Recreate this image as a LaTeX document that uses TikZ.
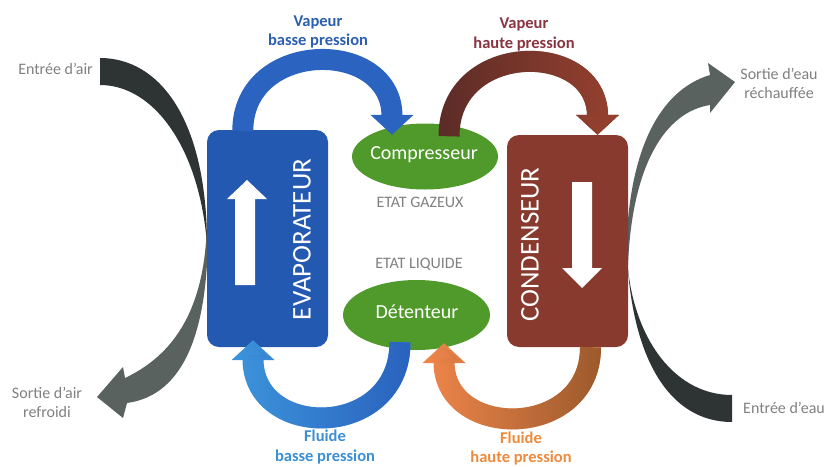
\documentclass[tikz,border=0pt]{standalone}
\usepackage{fontspec}
\setmainfont{Carlito}
\usepackage{tikz}
\usetikzlibrary{arrows.meta, shapes.geometric, fadings}
\usepackage{xcolor}
\definecolor{evapblue}{HTML}{2459B2}
\definecolor{condbrown}{HTML}{873A2D}
\definecolor{valvegreen}{HTML}{509A2C}
\definecolor{vapblue}{HTML}{2A64C0}
\definecolor{fluidlight}{HTML}{3C92DA}
\definecolor{fluiddark}{HTML}{2A62BE}
\definecolor{vapdark}{HTML}{5C2C27}
\definecolor{vaphigh}{HTML}{94402F}
\definecolor{fluidorange}{HTML}{EC844A}
\definecolor{fluidbrown}{HTML}{9C5A2C}
\definecolor{swdark}{HTML}{2E3434}
\definecolor{swgray}{HTML}{59625F}
\definecolor{txtgray}{HTML}{808080}
\definecolor{lblblue}{HTML}{2D5FB0}
\definecolor{lblmaroon}{HTML}{8A3440}
\definecolor{lblsky}{HTML}{3C8FD2}
\definecolor{lblorange}{HTML}{EE8A3C}

\tikzfading[name=fadeleft, left color=transparent!100, right color=transparent!0]

\begin{document}
\begin{tikzpicture}[
    x=1pt, y=-1pt,
    box/.style={rounded corners=12pt, minimum width=121pt, inner sep=0pt},
    valve/.style={ellipse, fill=valvegreen, inner sep=0pt},
    valvetext/.style={text=white, inner sep=0pt, anchor=base, font=\fontsize{20}{24}\selectfont},
    boxtext/.style={text=white, rotate=90, inner sep=0pt, font=\fontsize{27}{30}\selectfont},
    side/.style={text=txtgray, align=center, inner sep=0pt, font=\fontsize{16}{19}\selectfont},
    phase/.style={text=txtgray, inner sep=0pt, anchor=base, font=\fontsize{16}{19}\selectfont},
    lbl/.style={align=center, inner sep=0pt, font=\fontsize{16.5}{19.5}\selectfont\bfseries},
    flow/.style={line width=21pt, -{Triangle[width=42pt,length=20pt]}}
]
\useasboundingbox (0,0) rectangle (832,466);
% Air side
\fill[swdark] (100,58) .. controls (160,58) and (207,120) .. (207,245)
    .. controls (200,150) and (155,85) .. (100,85) -- cycle;
\fill[swgray] (207,215) .. controls (207,300) and (180,352) .. (125,378)
    -- (123,367) -- (97,397) -- (123,418) -- (127,403)
    .. controls (185,395) and (208,330) .. (208,230) -- cycle;
% Water side
\fill[swdark] (732,395) .. controls (670,395) and (630,330) .. (627,255)
    .. controls (632,360) and (670,422) .. (732,422) -- cycle;
\fill[swgray] (626,265) .. controls (626,150) and (660,90) .. (710,75)
    -- (708,63) -- (735,82) -- (710,113) -- (710,105)
    .. controls (665,112) and (632,165) .. (628,265) -- cycle;
% Exchangers and valves
\node[box, fill=evapblue, minimum height=217pt] (evap) at (267.5,238.5) {};
\node[box, fill=condbrown, minimum height=212pt] (cond) at (567.5,241) {};
\node[valve, minimum width=146pt, minimum height=66pt] (comp) at (425,156.5) {};
\node[valve, minimum width=147pt, minimum height=70pt] (det) at (416.5,315) {};
% Cycle arrows
\draw[flow, vapblue] ([xshift=36pt,yshift=-1pt]evap.north west)
    .. controls +(0,-92) and +(0,-97) .. ([xshift=-33pt,yshift=-11.5pt]comp.north);
\draw[flow, vapdark] ([xshift=24pt,yshift=-13pt]comp.north)
    .. controls +(0,-96) and +(0,-95) .. ([xshift=30pt]cond.north);
\draw[flow, vaphigh, path fading=fadeleft] ([xshift=24pt,yshift=-13pt]comp.north)
    .. controls +(0,-96) and +(0,-95) .. ([xshift=30pt]cond.north);
\draw[flow, fluidorange] ([xshift=23pt]cond.south)
    .. controls +(0,93) and +(0,97) .. ([xshift=27.5pt,yshift=7pt]det.south);
\draw[flow, fluidbrown, path fading=fadeleft] ([xshift=23pt]cond.south)
    .. controls +(0,93) and +(0,97) .. ([xshift=27.5pt,yshift=7pt]det.south);
\draw[flow, fluidlight] ([xshift=-16.5pt,yshift=8pt]det.south)
    .. controls +(0,98) and +(0,100) .. ([xshift=-14.5pt,yshift=7pt]evap.south);
\draw[flow, fluiddark, path fading=fadeleft] ([xshift=-16.5pt,yshift=8pt]det.south)
    .. controls +(0,98) and +(0,100) .. ([xshift=-14.5pt,yshift=7pt]evap.south);
% Flow direction inside
\fill[white] (235,285) -- (235,199) -- (227,199) -- (247,180) -- (267,199) -- (255,199) -- (255,285) -- cycle;
\fill[white] (572,182) -- (592,182) -- (592,268) -- (602,268) -- (582,288) -- (562,268) -- (572,268) -- cycle;
% Texts
\node[boxtext] (evaplab) at (302,239.5) {EVAPORATEUR};
\node[boxtext] (condlab) at (530,244.5) {CONDENSEUR};
\node[valvetext] (complab) at (424,159.5) {Compresseur};
\node[valvetext] (detlab) at (417,318) {Détenteur};
\node[phase] (gaz) at (420,207) {ETAT GAZEUX};
\node[phase] (liq) at (419,268) {ETAT LIQUIDE};
\node[lbl, text=lblblue] (vbp) at (318,32) {Vapeur\\basse pression};
\node[lbl, text=lblmaroon] (vhp) at (524,34.5) {Vapeur\\haute pression};
\node[lbl, text=lblsky] (fbp) at (325,447) {Fluide\\basse pression};
\node[lbl, text=lblorange] (fhp) at (521,448.5) {Fluide\\haute pression};
\node[side, anchor=base east] (airin) at (93,74) {Entrée d’air};
\node[side] (airout) at (47,402.5) {Sortie d’air\\refroidi};
\node[side] (waterout) at (779,83) {Sortie d’eau\\réchauffée};
\node[side, anchor=base west] (waterin) at (743,413) {Entrée d’eau};
\end{tikzpicture}
\end{document}
